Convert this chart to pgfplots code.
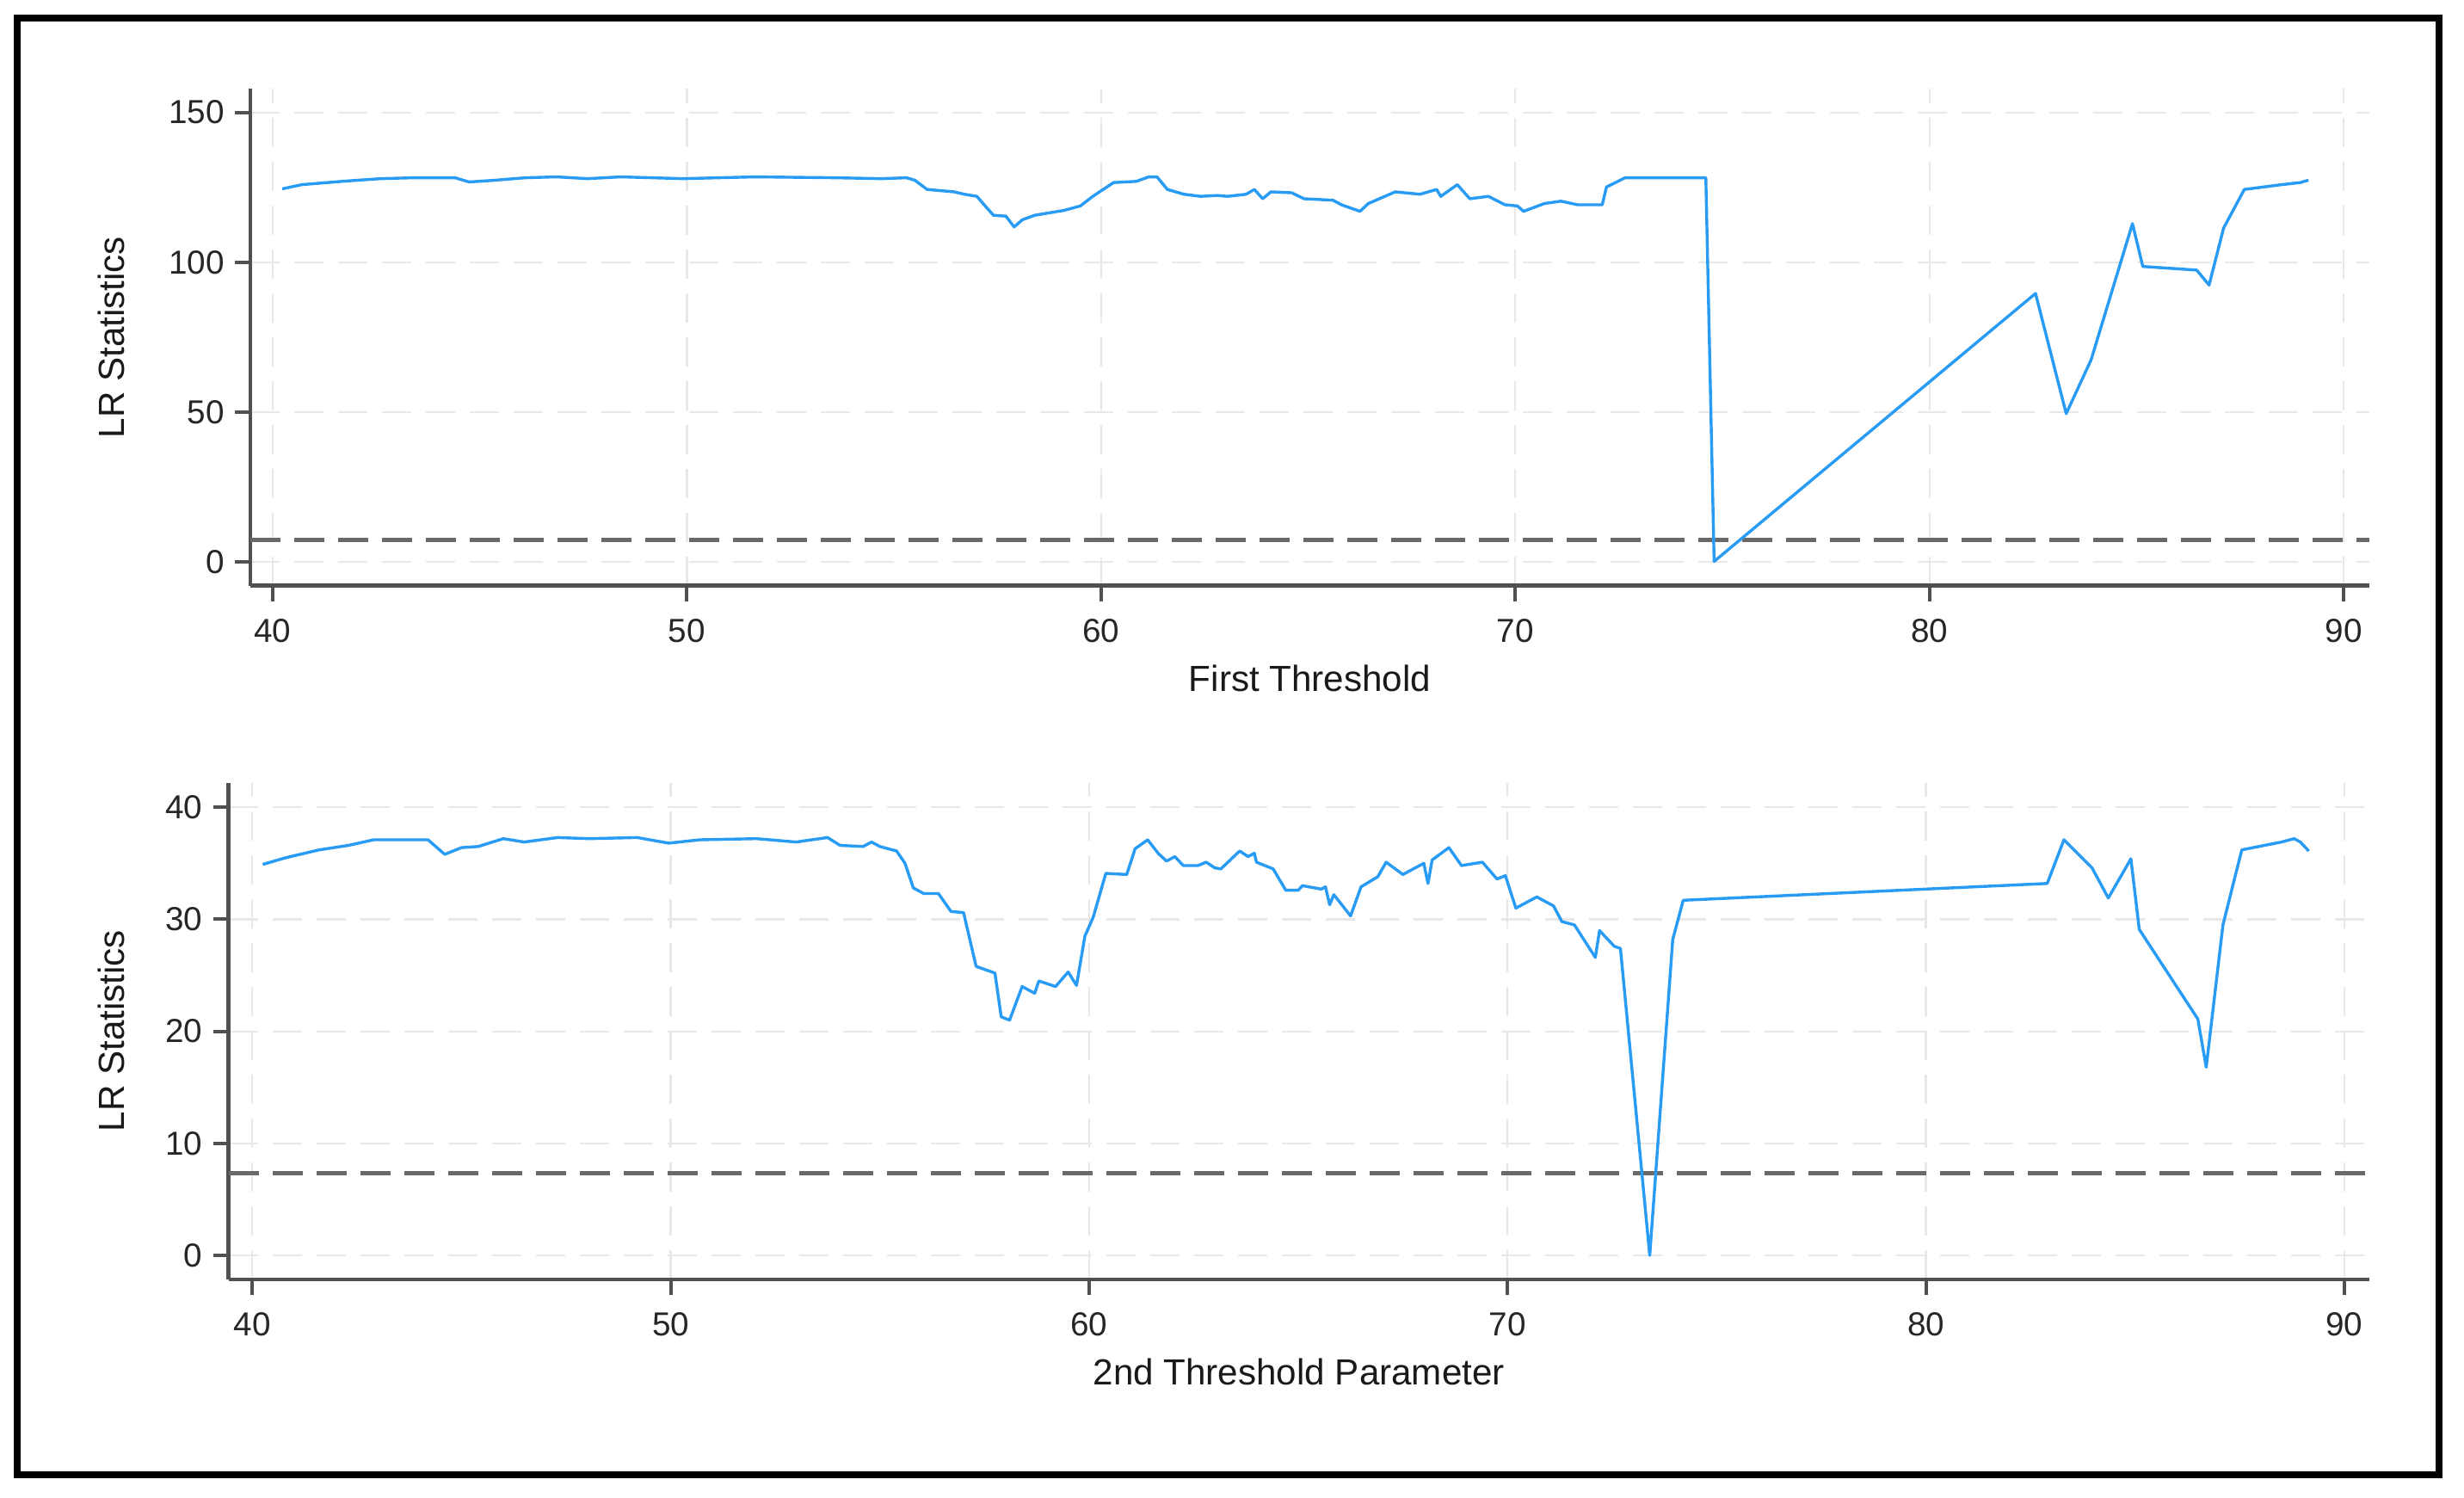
\documentclass[border=0pt]{standalone}
\usepackage{fontspec}
\setmainfont{Liberation Sans}
\usepackage{pgfplots}
\pgfplotsset{compat=1.18}
\definecolor{lineblue}{RGB}{40,155,245}
\definecolor{axgray}{RGB}{80,80,80}
\definecolor{gridgray}{RGB}{232,232,232}
\definecolor{thrgray}{RGB}{105,105,105}
\pgfplotsset{
 stataaxis/.style={
  scale only axis,
  axis lines*=left,
  axis line style={draw=axgray, line width=0.45mm, -},
  tick align=outside,
  major tick length=1.8mm,
  tick style={draw=axgray, line width=0.4mm},
  xtick={40,50,60,70,80,90},
  grid=major,
  major grid style={draw=gridgray, line width=0.22mm, dash pattern=on 3.4mm off 1.7mm},
  /pgf/number format/assume math mode=true,
  ticklabel style={font=\fontsize{11pt}{13pt}\selectfont, text=black!85},
  xticklabel style={yshift=-0.8mm},
  label style={font=\fontsize{12pt}{14pt}\selectfont, text=black!90},
  xlabel style={at={(axis description cs:0.5,-0.212)}, anchor=base},
  anchor=south west,
 }
}
\begin{document}
\begin{tikzpicture}
\fill[white] (0,0) rectangle (286.4mm,174mm);
\path[use as bounding box] (0,0) rectangle (286.4mm,174mm);
\draw[line width=0.75mm, black] (2.0mm,2.6mm) rectangle (283.5mm,171.9mm);
\begin{axis}[stataaxis,
  at={(29.1mm,105.93mm)}, width=246.3mm, height=57.72mm,
  xmin=39.46, xmax=90.62, ymin=-7.9, ymax=157.8,
  ytick={0,50,100,150},
  xlabel={First Threshold}, ylabel={LR Statistics},
  ylabel style={at={(axis description cs:-0.0656,0.5)}, rotate=0, anchor=center},
]
\addplot[thrgray, line width=0.5mm, dash pattern=on 3.5mm off 1.6mm] coordinates {(39.46,7.35) (90.62,7.35)};
\addplot[lineblue, line width=0.34mm, line join=round] coordinates {
(40.23,124.5) (40.7,125.9) (41.67,127.0) (42.6,127.9) (43.4,128.2) (44.4,128.2) (44.74,126.8) (45.3,127.3) (46.1,128.2) (46.85,128.5) (47.6,127.9) (48.4,128.5) (49.9,127.9) (51.65,128.5) (53.57,128.2) (54.7,127.9) (55.3,128.2) (55.5,127.4) (55.8,124.3) (56.45,123.5) (56.7,122.7) (57.0,122.0) (57.2,118.8) (57.4,115.7) (57.7,115.4) (57.9,111.8) (58.1,114.2) (58.4,115.7) (58.75,116.5) (59.1,117.3) (59.5,118.8) (59.8,122.0) (60.3,126.6) (60.85,127.0) (61.15,128.5) (61.35,128.5) (61.6,124.3) (62.0,122.7) (62.4,122.0) (62.8,122.3) (63.05,122.0) (63.5,122.7) (63.7,124.3) (63.9,121.2) (64.1,123.5) (64.6,123.2) (64.9,121.2) (65.6,120.7) (65.8,119.2) (66.25,117.0) (66.45,119.6) (67.1,123.5) (67.7,122.7) (68.1,124.3) (68.2,122.0) (68.6,125.9) (68.9,121.2) (69.35,122.0) (69.75,119.2) (70.05,118.8) (70.2,117.0) (70.7,119.6) (71.1,120.4) (71.5,119.2) (72.1,119.2) (72.2,125.1) (72.65,128.2) (74.6,128.2) (74.8,0.2) (82.56,89.6) (83.3,49.5) (83.9,67.4) (84.9,112.9) (85.15,98.6) (86.45,97.4) (86.75,92.4) (87.1,111.4) (87.6,124.3) (88.5,125.9) (88.95,126.6) (89.15,127.4)
};
\end{axis}
\begin{axis}[stataaxis,
  at={(26.55mm,25.32mm)}, width=248.85mm, height=57.72mm,
  xmin=39.43, xmax=90.6, ymin=-2.13, ymax=42.2,
  ytick={0,10,20,30,40},
  xlabel={2nd Threshold Parameter}, ylabel={LR Statistics},
  ylabel style={at={(axis description cs:-0.0547,0.5)}, rotate=0, anchor=center},
]
\addplot[thrgray, line width=0.5mm, dash pattern=on 3.5mm off 1.6mm] coordinates {(39.43,7.35) (90.6,7.35)};
\addplot[lineblue, line width=0.34mm, line join=round] coordinates {
(40.25,34.9) (40.8,35.5) (41.6,36.2) (42.3,36.6) (42.9,37.1) (44.2,37.1) (44.6,35.8) (45.0,36.4) (45.4,36.5) (46.0,37.2) (46.5,36.9) (47.3,37.3) (48.05,37.2) (49.2,37.3) (49.95,36.8) (50.7,37.1) (52.05,37.2) (53.0,36.9) (53.75,37.3) (54.05,36.6) (54.6,36.5) (54.8,36.9) (55.0,36.5) (55.4,36.1) (55.6,35.0) (55.8,32.8) (56.05,32.3) (56.4,32.3) (56.7,30.7) (57.0,30.6) (57.3,25.8) (57.75,25.2) (57.9,21.3) (58.1,21.0) (58.4,24.0) (58.7,23.4) (58.8,24.5) (59.2,24.0) (59.5,25.3) (59.7,24.1) (59.9,28.5) (60.1,30.2) (60.4,34.1) (60.9,34.0) (61.1,36.3) (61.4,37.1) (61.65,35.9) (61.85,35.2) (62.05,35.6) (62.25,34.8) (62.6,34.8) (62.8,35.1) (63.0,34.6) (63.15,34.5) (63.6,36.1) (63.8,35.6) (63.95,35.9) (64.0,35.1) (64.4,34.5) (64.7,32.6) (65.0,32.6) (65.1,33.0) (65.55,32.7) (65.65,32.9) (65.75,31.3) (65.85,32.2) (66.25,30.3) (66.5,32.9) (66.9,33.8) (67.1,35.1) (67.5,34.0) (68.0,35.0) (68.1,33.2) (68.2,35.3) (68.6,36.4) (68.9,34.8) (69.4,35.1) (69.75,33.6) (69.95,33.9) (70.2,31.0) (70.7,32.0) (71.1,31.2) (71.3,29.8) (71.6,29.5) (72.1,26.6) (72.2,29.0) (72.55,27.6) (72.7,27.4) (73.4,0.0) (73.95,28.2) (74.2,31.7) (82.9,33.2) (83.3,37.1) (83.97,34.6) (84.36,31.9) (84.9,35.4) (85.1,29.1) (86.5,21.1) (86.7,16.8) (87.1,29.5) (87.55,36.2) (88.5,36.9) (88.8,37.2) (88.95,36.9) (89.15,36.1)
};
\end{axis}
\end{tikzpicture}
\end{document}
